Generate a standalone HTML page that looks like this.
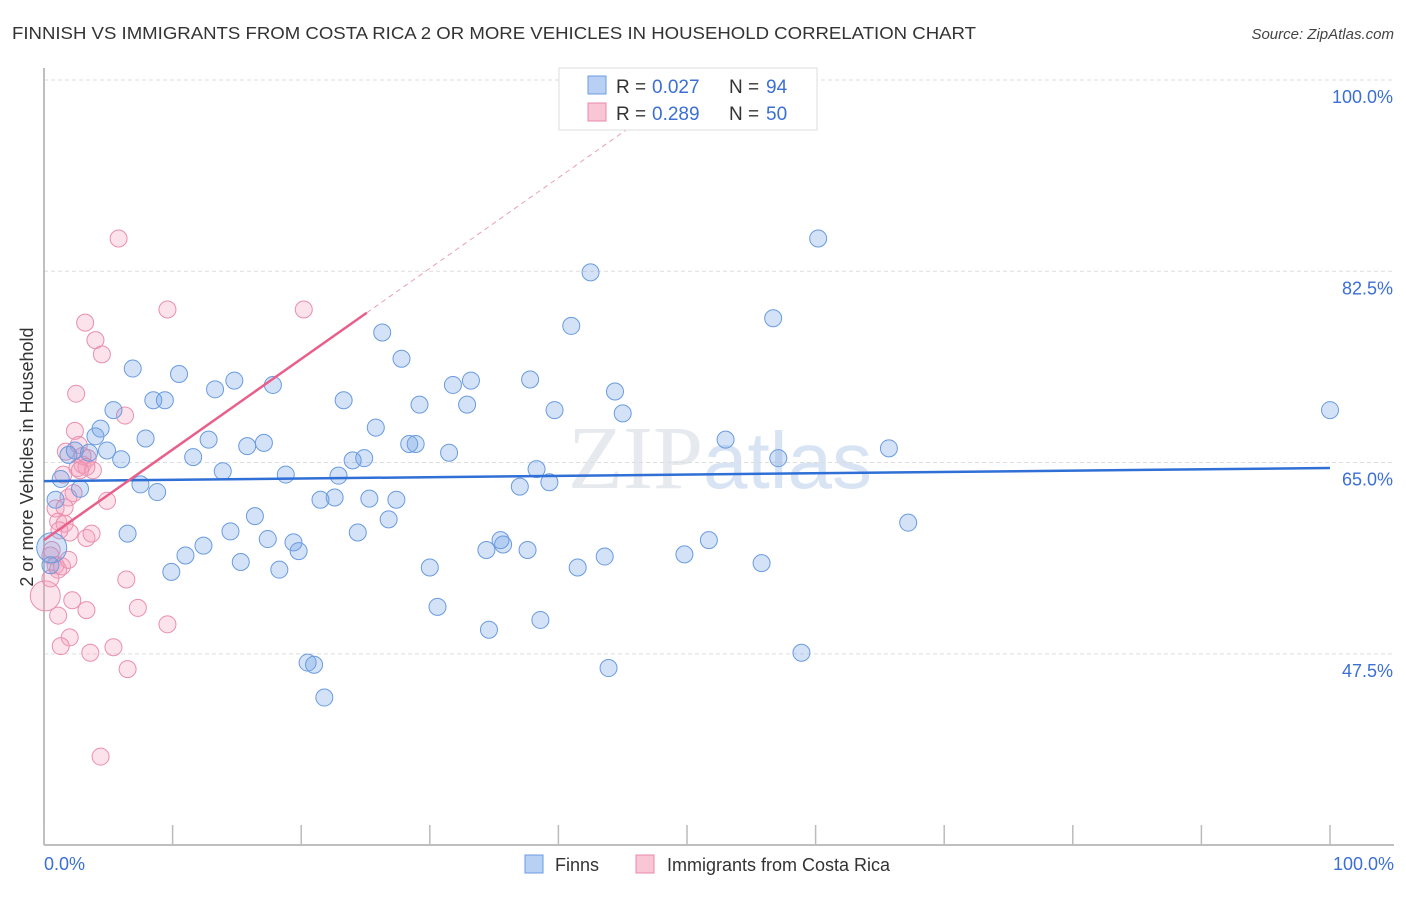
<!DOCTYPE html>
<html><head><meta charset="utf-8"><style>
body{margin:0;background:#fff;font-family:"Liberation Sans",sans-serif;}
</style></head><body>
<svg width="1406" height="892" viewBox="0 0 1406 892" xmlns="http://www.w3.org/2000/svg">
<text x="12" y="39" font-size="17.5" fill="#333" textLength="964" lengthAdjust="spacingAndGlyphs">FINNISH VS IMMIGRANTS FROM COSTA RICA 2 OR MORE VEHICLES IN HOUSEHOLD CORRELATION CHART</text>
<text x="1394" y="39" font-size="15" fill="#444" font-style="italic" text-anchor="end">Source: ZipAtlas.com</text>
<text x="720" y="488" font-size="90" fill="#e6e9ee" text-anchor="middle" font-family="Liberation Serif,serif">ZIP<tspan fill="#d8e4f4" font-family="Liberation Sans,sans-serif" font-size="80">atlas</tspan></text>
<g id="grid"></g>
<line x1="44" y1="68" x2="44" y2="845" stroke="#aaa" stroke-width="1.5"/>
<line x1="44" y1="845" x2="1394" y2="845" stroke="#aaa" stroke-width="1.5"/>
<g id="xticks"></g>
<text x="33" y="457" font-size="18" fill="#333" text-anchor="middle" transform="rotate(-90 33 457)">2 or more Vehicles in Household</text>
<text x="44" y="870" font-size="18" fill="#3b6fd4">0.0%</text>
<text x="1394" y="870" font-size="18" fill="#3b6fd4" text-anchor="end">100.0%</text>
<g id="pts"></g>
<g id="lines"></g>
<g>
<rect x="559" y="68" width="258" height="62" fill="#fff" stroke="#ddd"/>
<rect x="588" y="76" width="18" height="18" fill="#b8d0f3" stroke="#6a9be0"/>
<text x="616" y="93" font-size="19" fill="#333">R =</text>
<text x="652" y="93" font-size="19" fill="#3b6fd4">0.027</text>
<text x="729" y="93" font-size="19" fill="#333">N =</text>
<text x="766" y="93" font-size="19" fill="#3b6fd4">94</text>
<rect x="588" y="103" width="18" height="18" fill="#f8c6d4" stroke="#e98aa8"/>
<text x="616" y="120" font-size="19" fill="#333">R =</text>
<text x="652" y="120" font-size="19" fill="#3b6fd4">0.289</text>
<text x="729" y="120" font-size="19" fill="#333">N =</text>
<text x="766" y="120" font-size="19" fill="#3b6fd4">50</text>
</g>
<g>
<rect x="525" y="855" width="18" height="18" fill="#b8d0f3" stroke="#6a9be0"/>
<text x="555" y="871" font-size="18" fill="#333">Finns</text>
<rect x="636" y="855" width="18" height="18" fill="#f8c6d4" stroke="#e98aa8"/>
<text x="667" y="871" font-size="18" fill="#333">Immigrants from Costa Rica</text>
</g>
</svg>
<script>
const yTicks=[100,82.5,65,47.5];
const yTickLabels=["100.0%","82.5%","65.0%","47.5%"];
const xTicks=[0,10,20,30,40,50,60,70,80,90,100];
const finnsX=[60.2,42.5,56.7,41.0,26.3,27.8,6.9,10.5,14.8,13.3,17.8,31.8,33.2,37.8,44.4,8.5,9.4,23.3,29.2,32.9,39.7,45.0,100,5.4,4.4,4.0,7.9,12.8,15.8,17.1,25.8,28.4,28.9,53.0,65.7,2.4,4.9,3.5,1.9,6.0,11.6,31.5,24.9,24.0,57.1,13.9,18.8,22.9,38.3,39.3,37.0,1.3,2.8,7.5,8.8,21.5,22.6,25.3,27.4,0.9,16.4,26.8,67.2,6.5,24.4,14.5,17.4,19.4,12.4,11.0,19.8,35.5,35.7,34.4,37.6,51.7,49.8,43.6,15.3,9.9,18.3,30.0,41.5,55.8,0.6,0.5,30.6,38.6,34.6,58.9,20.5,21.0,43.9,21.8];
const finnsY=[85.5,82.4,78.2,77.5,76.9,74.5,73.6,73.1,72.5,71.7,72.1,72.1,72.5,72.6,71.5,70.7,70.7,70.7,70.3,70.3,69.8,69.5,69.8,69.8,68.1,67.4,67.2,67.1,66.5,66.8,68.2,66.7,66.7,67.1,66.3,66.1,66.1,65.9,65.7,65.3,65.5,65.9,65.4,65.2,65.4,64.2,63.9,63.8,64.4,63.2,62.8,63.5,62.6,63.0,62.3,61.6,61.8,61.7,61.6,61.6,60.1,59.8,59.5,58.5,58.6,58.7,58.0,57.7,57.4,56.5,56.9,57.9,57.5,57.0,57.0,57.9,56.6,56.4,55.9,55.0,55.2,55.4,55.4,55.8,57.2,55.6,51.8,50.6,49.7,47.6,46.7,46.5,46.2,43.5];
const crX=[5.8,9.6,20.2,3.2,4.0,4.5,2.5,6.3,2.4,1.7,2.7,3.4,3.0,3.8,2.6,1.5,2.3,1.9,4.9,0.9,1.6,1.1,1.6,2.0,3.3,3.7,0.6,0.5,0.9,1.1,6.4,0.1,2.2,3.3,7.3,1.1,9.6,2.0,1.3,5.4,3.6,6.5,4.4,3.0,3.3,0.5,1.4,1.9,2.8,1.2];
const crY=[85.5,79.0,79.0,77.8,76.2,74.9,71.3,69.3,67.9,66.0,66.6,65.4,64.8,64.3,64.5,63.9,62.2,61.8,61.5,60.8,60.9,59.6,59.4,58.6,58.1,58.5,57.0,56.5,55.6,55.2,54.3,52.8,52.4,51.5,51.7,51.0,50.2,49.0,48.2,48.1,47.6,46.1,38.1,65.6,64.6,54.4,55.5,56.1,64.3,58.8];
const finnsTrend=[63.3,64.5];
const crTrend=[57.9,0.829];
const NS="http://www.w3.org/2000/svg";
const xs=v=>44+v*12.86, ys=v=>80+(100-v)*10.93;
function mk(t,a,p){const e=document.createElementNS(NS,t);for(const k in a)e.setAttribute(k,a[k]);document.getElementById(p).appendChild(e);return e;}
yTicks.forEach((v,i)=>{
 const l=mk('line',{x1:44,x2:1394,y1:ys(v),y2:ys(v),stroke:'#ddd','stroke-dasharray':'4,3'},'grid');
 
 
 const t=mk('text',{x:1393,y:ys(v)+23,'font-size':18,fill:'#3b6fd4','text-anchor':'end'},'grid');
 t.textContent=yTickLabels[i];
 
 
});
xTicks.forEach(v=>{
 const l=mk('line',{x1:xs(v),x2:xs(v),y1:825,y2:845,stroke:'#bbb','stroke-width':1.5},'xticks');
 
 
});
crX.forEach((x,i)=>{
 const r=(i===31)?15:8.5;
 const c=mk('circle',{cx:xs(x),cy:ys(crY[i]),r:r,fill:'rgba(244,160,188,0.3)',stroke:'#ea8fad','stroke-width':1},'pts');
 
 
});
finnsX.forEach((x,i)=>{
 const r=(i===84)?15:8.5;
 const c=mk('circle',{cx:xs(x),cy:ys(finnsY[i]),r:r,fill:'rgba(110,160,230,0.3)',stroke:'#6a9be0','stroke-width':1},'pts');
 
 
});
let l=mk('line',{x1:xs(0),y1:ys(finnsTrend[0]),x2:xs(100),y2:ys(finnsTrend[1]),stroke:'#2f6fd6','stroke-width':2.5},'lines');


l=mk('line',{x1:xs(25.1),y1:ys(crTrend[0]+crTrend[1]*25.1),x2:xs(46),y2:ys(crTrend[0]+crTrend[1]*46),stroke:'#e8a0b8','stroke-width':1,'stroke-dasharray':'5,4'},'lines');


l=mk('line',{x1:xs(0),y1:ys(crTrend[0]),x2:xs(25.1),y2:ys(crTrend[0]+crTrend[1]*25.1),stroke:'#e8608a','stroke-width':2.5},'lines');


</script>
</body></html>
